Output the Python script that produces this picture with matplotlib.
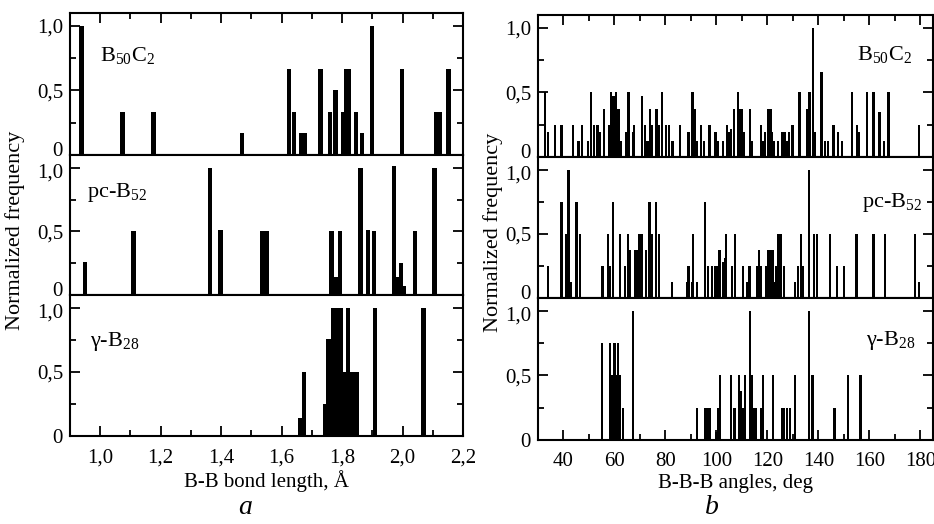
import matplotlib
matplotlib.use("Agg")
import matplotlib.pyplot as plt
import matplotlib.transforms as mtransforms
from matplotlib.ticker import MultipleLocator, FixedLocator, FuncFormatter

plt.rcParams['font.family'] = ['Liberation Serif', 'DejaVu Serif']
plt.rcParams['mathtext.fontset'] = 'custom'
plt.rcParams['mathtext.rm'] = 'Liberation Serif'
plt.rcParams['mathtext.it'] = 'Liberation Serif:italic'

# ---- bond length histograms (panel a) ----
b50c2_len = [0.938, 1.074, 1.176, 1.468, 1.624, 1.640, 1.666, 1.678, 1.729, 1.759, 1.778,
             1.803, 1.814, 1.823, 1.845, 1.866, 1.900, 1.998, 2.111, 2.122, 2.152]
b50c2_len_f = [1.0, 0.333, 0.333, 0.167, 0.667, 0.333, 0.167, 0.167, 0.667, 0.333, 0.5,
               0.333, 0.667, 0.667, 0.333, 0.167, 1.0, 0.667, 0.333, 0.333, 0.667]

pcb52_len = [0.949, 1.110, 1.363, 1.398, 1.534, 1.550, 1.765, 1.781, 1.794, 1.861, 1.886,
             1.905, 1.971, 1.985, 1.996, 2.004, 2.040, 2.106]
pcb52_len_f = [0.26, 0.5, 1.0, 0.51, 0.5, 0.5, 0.5, 0.14, 0.5, 1.0, 0.51,
               0.5, 1.01, 0.14, 0.25, 0.07, 0.5, 1.0]

gb28_len = [1.660, 1.673, 1.745, 1.755, 1.770, 1.775, 1.785, 1.796, 1.807, 1.820, 1.830,
            1.841, 1.849, 1.908, 2.069]
gb28_len_f = [0.14, 0.5, 0.25, 0.76, 1.0, 0.5, 1.0, 1.0, 0.5, 1.0, 0.5,
              0.5, 0.5, 1.0, 1.0]

# ---- bond angle histograms (panel b) ----
b50c2_ang = [32.8, 33.8, 36.6, 39.2, 43.8, 45.9, 47.2, 49.6, 50.7, 52.1, 53.3, 54.3, 55.9,
             57.8, 58.7, 59.6, 60.7, 61.6, 62.6, 64.6, 65.5, 67.2, 67.8, 70.8, 72.0, 73.0,
             73.9, 74.7, 76.5, 77.6, 78.6, 80.2, 81.5, 82.8, 85.8, 89.0, 90.6, 91.6, 92.5,
             94.1, 95.1, 97.3, 99.7, 100.7, 102.5, 104.1, 104.9, 105.8, 107.0, 108.4, 109.1,
             110.0, 110.8, 113.3, 114.0, 117.5, 118.2, 119.1, 120.4, 121.2, 121.9, 122.6,
             124.1, 125.9, 126.9, 127.9, 128.6, 129.9, 132.6, 135.7, 136.5, 137.8, 138.6,
             141.2, 142.5, 143.7, 145.9, 147.8, 149.4, 153.3, 155.2, 156.1, 159.1, 161.7,
             164.0, 165.9, 167.5, 179.6]
b50c2_ang_f = [0.5, 0.19, 0.25, 0.25, 0.25, 0.125, 0.25, 0.125, 0.5, 0.25, 0.25, 0.19, 0.375,
               0.25, 0.5, 0.47, 0.5, 0.375, 0.125, 0.19, 0.5, 0.19, 0.25, 0.47, 0.25, 0.125,
               0.375, 0.25, 0.375, 0.25, 0.5, 0.25, 0.25, 0.125, 0.25, 0.19, 0.5, 0.375, 0.125,
               0.25, 0.125, 0.25, 0.19, 0.125, 0.125, 0.25, 0.19, 0.22, 0.375, 0.5, 0.375,
               0.375, 0.19, 0.375, 0.125, 0.25, 0.125, 0.19, 0.375, 0.375, 0.19, 0.125,
               0.125, 0.19, 0.19, 0.125, 0.19, 0.25, 0.5, 0.375, 0.5, 1.0, 0.19,
               0.66, 0.125, 0.125, 0.25, 0.19, 0.125, 0.5, 0.25, 0.19, 0.5, 0.5,
               0.35, 0.125, 0.5, 0.25]

pcb52_ang = [33.8, 39.2, 40.9, 42.0, 42.9, 45.1, 46.6, 55.3, 57.4, 58.3, 59.4, 62.2, 64.2,
             65.2, 65.9, 68.2, 68.9, 69.8, 70.8, 72.4, 73.7, 74.5, 76.3, 77.6, 82.5, 88.4,
             89.0, 90.3, 90.8, 92.5, 95.5, 96.8, 98.4, 99.4, 100.3, 101.2, 102.5, 103.3,
             103.8, 106.2, 107.3, 110.4, 112.1, 113.0, 116.0, 116.6, 117.3, 119.6, 120.5,
             121.4, 122.2, 122.7, 123.6, 124.1, 125.2, 126.6, 130.9, 132.0, 133.3, 134.0,
             136.4, 138.3, 139.4, 144.6, 147.2, 150.0, 155.0, 161.7, 166.3, 178.0, 179.6]
pcb52_ang_f = [0.25, 0.75, 0.5, 1.0, 0.125, 0.75, 0.5, 0.25, 0.5, 0.25, 0.75, 0.5, 0.25,
               0.5, 0.375, 0.375, 0.375, 0.5, 0.5, 0.375, 0.75, 0.5, 0.75, 0.5, 0.125, 0.125,
               0.25, 0.125, 0.5, 0.125, 0.75, 0.25, 0.25, 0.25, 0.25, 0.375, 0.28, 0.31,
               0.5, 0.25, 0.5, 0.25, 0.125, 0.25, 0.25, 0.375, 0.25, 0.25, 0.375,
               0.375, 0.375, 0.125, 0.25, 0.5, 0.5, 0.25, 0.125, 0.25, 0.5, 0.25,
               1.0, 0.5, 0.5, 0.5, 0.25, 0.25, 0.5, 0.5, 0.5, 0.5, 0.125]

gb28_ang = [55.0, 58.3, 59.1, 60.0, 60.7, 61.5, 62.2, 63.3, 67.4, 92.4, 95.5, 96.4, 97.3,
            100.1, 100.6, 101.4, 105.8, 107.1, 109.0, 109.7, 110.6, 111.3, 113.3, 114.0,
            114.6, 115.3, 117.5, 118.2, 122.1, 125.7, 126.6, 127.6, 128.9, 130.9, 136.4,
            137.7, 146.4, 151.7, 156.5]
gb28_ang_f = [0.75, 0.75, 0.5, 0.75, 0.5, 0.75, 0.5, 0.25, 1.0, 0.25, 0.25, 0.25, 0.25,
              0.06, 0.25, 0.5, 0.5, 0.25, 0.5, 0.38, 0.25, 0.5, 1.0, 0.5,
              0.25, 0.25, 0.25, 0.5, 0.5, 0.25, 0.25, 0.25, 0.25, 0.5, 1.0,
              0.5, 0.25, 0.5, 0.5]

names = [r'B$_{50}$C$_2$', r'pc-B$_{52}$', r'γ-B$_{28}$']

W, H = 934, 524
fig = plt.figure(figsize=(W / 100, H / 100), dpi=100)


def px_axes(left, top, right, bottom):
    return fig.add_axes([left / W, 1 - bottom / H, (right - left) / W, (bottom - top) / H])


def comma(v, pos):
    if abs(v) < 1e-9:
        return '0'
    return ('%.1f' % v).replace('.', ',')


def style(ax, xlim, major, minor, fmt, top, bottom):
    ax.set_xlim(*xlim)
    ax.set_ylim(0, 1.1)
    ax.xaxis.set_major_locator(MultipleLocator(major))
    ax.xaxis.set_minor_locator(MultipleLocator(minor))
    ax.xaxis.set_major_formatter(FuncFormatter(fmt))
    ax.yaxis.set_major_locator(FixedLocator([0, 0.5, 1.0]))
    ax.yaxis.set_minor_locator(FixedLocator([0.25, 0.75]))
    ax.yaxis.set_major_formatter(FuncFormatter(comma))
    ax.tick_params(which='both', direction='in', width=1.3, labelsize=15,
                   top=top, bottom=bottom, left=True, right=True,
                   labelbottom=bottom, labeltop=False)
    ax.tick_params(which='major', length=7, pad=5)
    ax.tick_params(which='minor', length=4)
    ax.tick_params(axis='x', which='major', pad=9)
    for s in ax.spines.values():
        s.set_linewidth(1.5)
    # nudge the "0" label up / "1,0" label down a little so stacked panels don't collide
    if not bottom:
        fig.canvas.draw()
        labels = ax.get_yticklabels()
        up = mtransforms.ScaledTranslation(0, 4 / 72, fig.dpi_scale_trans)
        labels[0].set_transform(labels[0].get_transform() + up)
    if not top:
        labels = ax.get_yticklabels()
        down = mtransforms.ScaledTranslation(0, -2 / 72, fig.dpi_scale_trans)
        labels[-1].set_transform(labels[-1].get_transform() + down)


# panel a
left_rows = [(13, 155), (155, 295), (295, 436)]
left_data = [(b50c2_len, b50c2_len_f), (pcb52_len, pcb52_len_f), (gb28_len, gb28_len_f)]
left_lab = [(0.076, 0.70), (0.043, 0.73), (0.051, 0.67)]
for i, ((t, b), (x, y), (lx, ly)) in enumerate(zip(left_rows, left_data, left_lab)):
    ax = px_axes(70, t, 463, b)
    ax.bar(x, y, width=0.014, color='black', linewidth=0)
    style(ax, (0.9, 2.2), 0.2, 0.1, comma, i == 0, i == 2)
    ax.text(lx, ly, names[i], transform=ax.transAxes, fontsize=16, ha='left', va='center')
    if i == 2:
        ax.set_xlabel('B-B bond length, Å', fontsize=15, labelpad=2)

# panel b
right_rows = [(15, 157), (157, 298), (298, 440)]
right_data = [(b50c2_ang, b50c2_ang_f), (pcb52_ang, pcb52_ang_f), (gb28_ang, gb28_ang_f)]
right_lab = [(0.947, 0.72), (0.972, 0.68), (0.954, 0.70)]
for i, ((t, b), (x, y), (lx, ly)) in enumerate(zip(right_rows, right_data, right_lab)):
    ax = px_axes(538, t, 933, b)
    ax.bar(x, y, width=0.9, color='black', linewidth=0)
    style(ax, (30, 185), 20, 10, lambda v, p: '%d' % v, i == 0, i == 2)
    ax.text(lx, ly, names[i], transform=ax.transAxes, fontsize=16, ha='right', va='center')
    if i == 2:
        ax.set_xlabel('B-B-B angles, deg', fontsize=15, labelpad=2)

fig.text(15 / W, 1 - 230 / H, 'Normalized frequency', rotation=90, fontsize=16,
         ha='center', va='center')
fig.text(493 / W, 1 - 232 / H, 'Normalized frequency', rotation=90, fontsize=16,
         ha='center', va='center')
fig.text(245 / W, 1 - 508 / H, 'a', fontsize=20, style='italic', ha='center', va='center')
fig.text(712 / W, 1 - 508 / H, 'b', fontsize=20, style='italic', ha='center', va='center')

fig.savefig('out.png', dpi=100)
